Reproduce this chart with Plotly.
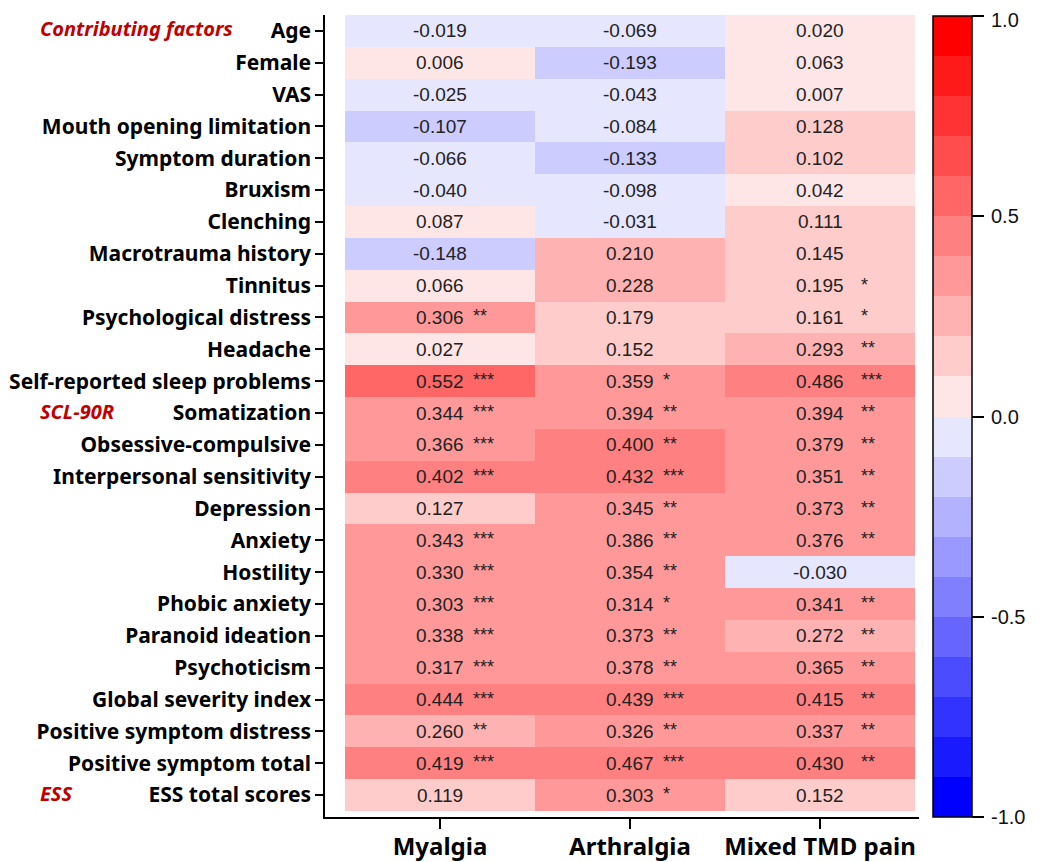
import plotly.graph_objects as go

# ---------------- data ----------------
row_labels = [
    "Age", "Female", "VAS", "Mouth opening limitation", "Symptom duration",
    "Bruxism", "Clenching", "Macrotrauma history", "Tinnitus",
    "Psychological distress", "Headache", "Self-reported sleep problems",
    "Somatization", "Obsessive-compulsive", "Interpersonal sensitivity",
    "Depression", "Anxiety", "Hostility", "Phobic anxiety",
    "Paranoid ideation", "Psychoticism", "Global severity index",
    "Positive symptom distress", "Positive symptom total", "ESS total scores",
]
col_labels = ["Myalgia", "Arthralgia", "Mixed TMD pain"]

myalgia = [-0.019, 0.006, -0.025, -0.107, -0.066, -0.040, 0.087, -0.148, 0.066,
           0.306, 0.027, 0.552, 0.344, 0.366, 0.402, 0.127, 0.343, 0.330, 0.303,
           0.338, 0.317, 0.444, 0.260, 0.419, 0.119]
arthralgia = [-0.069, -0.193, -0.043, -0.084, -0.133, -0.098, -0.031, 0.210, 0.228,
              0.179, 0.152, 0.359, 0.394, 0.400, 0.432, 0.345, 0.386, 0.354, 0.314,
              0.373, 0.378, 0.439, 0.326, 0.467, 0.303]
mixed = [0.020, 0.063, 0.007, 0.128, 0.102, 0.042, 0.111, 0.145, 0.195,
         0.161, 0.293, 0.486, 0.394, 0.379, 0.351, 0.373, 0.376, -0.030, 0.341,
         0.272, 0.365, 0.415, 0.337, 0.430, 0.152]

myalgia_sig = ["", "", "", "", "", "", "", "", "",
               "**", "", "***", "***", "***", "***", "", "***", "***", "***",
               "***", "***", "***", "**", "***", ""]
arthralgia_sig = ["", "", "", "", "", "", "", "", "",
                  "", "", "*", "**", "**", "***", "**", "**", "**", "*",
                  "**", "**", "***", "**", "***", "*"]
mixed_sig = ["", "", "", "", "", "", "", "", "*",
             "*", "**", "***", "**", "**", "**", "**", "**", "", "**",
             "**", "**", "**", "**", "**", ""]

group_labels = ["Contributing factors", "SCL-90R", "ESS"]
group_rows = [0, 12, 24]

colorbar_ticks = [-1.0, -0.5, 0.0, 0.5, 1.0]

# ---------------- layout constants (pixels, window coords) ----------------
OFF = 8  # page body margin
W, H = 1046 - OFF, 862 - OFF
PLOT_L, PLOT_R, PLOT_T, PLOT_B = 325 - OFF, 919 - OFF, 15 - OFF, 817 - OFF
CELL_L, CELL_R, CELL_B = 345 - OFF, 915 - OFF, 811 - OFF
CB_L, CB_T, CB_B, CB_W = 933 - OFF, 16 - OFF, 817 - OFF, 39
CB_LABEL_X = 989 - OFF
GROUP_X = 38 - OFF
n_rows, n_cols = len(row_labels), len(col_labels)

pw = PLOT_R - PLOT_L
ph = PLOT_B - PLOT_T
col_w = (CELL_R - CELL_L) / n_cols
x_lo = -0.5 - (CELL_L - PLOT_L) / col_w
x_hi = n_cols - 0.5 + (PLOT_R - CELL_R) / col_w
row_h = (CELL_B - PLOT_T) / n_rows
y_hi = n_rows - 0.5 + (PLOT_B - CELL_B) / row_h

# discrete blue-white-red colorscale with 20 bins
colors = []
for k in range(20):
    if k < 10:
        c = round(255 * k / 10)
        colors.append(f"rgb({c},{c},255)")
    else:
        c = round(255 * (19 - k) / 10)
        colors.append(f"rgb(255,{c},{c})")
colorscale = []
for k, c in enumerate(colors):
    colorscale.append([k / 20, c])
    colorscale.append([(k + 1) / 20, c])

columns = [myalgia, arthralgia, mixed]
sigs = [myalgia_sig, arthralgia_sig, mixed_sig]
z = [[columns[j][i] for j in range(n_cols)] for i in range(n_rows)]

# tick positions nudged just inside the bar ends so the end ticks are kept
cb_tickvals = [max(min(v, 0.9995), -0.9995) for v in colorbar_ticks]

fig = go.Figure()
fig.add_trace(go.Heatmap(
    z=z, x=list(range(n_cols)), y=list(range(n_rows)),
    zmin=-1, zmax=1, colorscale=colorscale,
    xgap=0, ygap=0,
    colorbar=dict(
        thickness=CB_W, thicknessmode="pixels",
        len=(CB_B - CB_T) / ph, lenmode="fraction",
        x=(CB_L - PLOT_L) / pw, xanchor="left",
        y=(PLOT_B - CB_T) / ph, yanchor="top",
        xpad=0, ypad=0,
        outlinecolor="black", outlinewidth=1.5,
        ticks="outside", ticklen=12, tickwidth=1.5, tickcolor="black",
        tickvals=cb_tickvals, showticklabels=False,
    ),
    hoverinfo="skip",
))

annotations = []
star_shift = [31, 31, 39]
for j in range(n_cols):
    for i in range(n_rows):
        annotations.append(dict(
            x=j, y=i, xref="x", yref="y", text=f"{columns[j][i]:.3f}",
            showarrow=False, xanchor="center", yanchor="middle",
            font=dict(size=19, family="Liberation Sans, Arial", color="#222"),
        ))
        if sigs[j][i]:
            annotations.append(dict(
                x=j, y=i, xref="x", yref="y", text=sigs[j][i],
                showarrow=False, xanchor="left", yanchor="middle",
                xshift=star_shift[j], yshift=1,
                font=dict(size=18, family="Liberation Sans, Arial", color="#222"),
            ))

for g, r in zip(group_labels, group_rows):
    annotations.append(dict(
        x=(GROUP_X - PLOT_L) / pw, xref="paper", y=r, yref="y", text=g,
        showarrow=False, xanchor="left", yanchor="middle", yshift=2,
        font=dict(size=20, family="Noto Sans", color="#C00000",
                  style="italic", weight="bold"),
    ))

# colorbar tick labels (as annotations so the top one stays inside the page)
for v in colorbar_ticks:
    py = CB_T + (1 - (v + 1) / 2) * (CB_B - CB_T)
    annotations.append(dict(
        x=(CB_LABEL_X - PLOT_L) / pw, xref="paper",
        y=(PLOT_B - py) / ph, yref="paper",
        text=f"{v:.1f}", showarrow=False, xanchor="left", yanchor="middle",
        yshift=-4 if v >= 1 else 0,
        font=dict(size=20, family="Liberation Sans, Arial", color="#111"),
    ))

fig.update_layout(
    width=W, height=H,
    margin=dict(l=PLOT_L, r=W - PLOT_R, t=PLOT_T, b=H - PLOT_B, pad=0,
                autoexpand=False),
    paper_bgcolor="white", plot_bgcolor="white",
    annotations=annotations,
    xaxis=dict(
        range=[x_lo, x_hi], tickvals=list(range(n_cols)), ticktext=col_labels,
        ticks="outside", ticklen=10, tickwidth=1.5, tickcolor="black",
        showline=True, linecolor="black", linewidth=1.5,
        showgrid=False, zeroline=False, automargin=False,
        ticklabelstandoff=-3,
        tickfont=dict(size=24, family="Noto Sans", color="black", weight="bold"),
    ),
    yaxis=dict(
        range=[y_hi, -0.5], tickvals=list(range(n_rows)), ticktext=row_labels,
        ticks="outside", ticklen=8, tickwidth=1.5, tickcolor="black",
        showline=True, linecolor="black", linewidth=1.5,
        showgrid=False, zeroline=False, automargin=False,
        tickfont=dict(size=21, family="Noto Sans", color="black", weight="bold"),
    ),
)

fig.write_html("out.html")
